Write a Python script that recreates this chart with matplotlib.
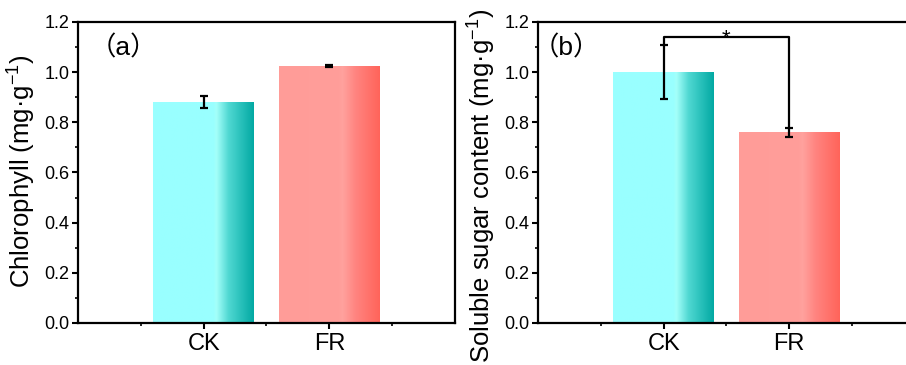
import numpy as np
import matplotlib.pyplot as plt
from matplotlib.colors import LinearSegmentedColormap
from matplotlib.ticker import MultipleLocator, FormatStrFormatter

plt.rcParams['font.family'] = ['Liberation Sans', 'Noto Sans CJK SC', 'DejaVu Sans']
plt.rcParams['mathtext.fontset'] = 'custom'
plt.rcParams['mathtext.rm'] = 'Liberation Sans'

groups = ['CK', 'FR']
chl_mean = [0.88, 1.024]
chl_err = [0.023, 0.004]
sugar_mean = [1.0, 0.760]
sugar_err = [0.107, 0.019]
ylabels = [r'Chlorophyll (mg·g$^{-1}$)', r'Soluble sugar content (mg·g$^{-1}$)']
panel_labels = ['（a）', '（b）']

ck_cmap = LinearSegmentedColormap.from_list('ck', [
    (0.0, '#99FFFF'), (0.6, '#99FFFF'), (0.63, '#A4FFFA'),
    (0.75, '#4FD8D2'), (1.0, '#02A9A3')])
fr_cmap = LinearSegmentedColormap.from_list('fr', [
    (0.0, '#FF9C98'), (0.6, '#FF9E9A'), (0.63, '#FFA29E'),
    (0.76, '#FF8480'), (1.0, '#FF645A')])
cmaps = [ck_cmap, fr_cmap]

fig = plt.figure(figsize=(9.06, 3.65), dpi=100)
ax_a = fig.add_axes([0.0861, 0.1151, 0.4161, 0.8247])
ax_b = fig.add_axes([0.5938, 0.1151, 0.4161, 0.8247])

x = np.arange(1, len(groups) + 1)
width = 0.8
grad = np.linspace(0, 1, 256).reshape(1, -1)


def draw(ax, means, errs, ylabel, label_y):
    for xi, m, cm in zip(x, means, cmaps):
        ax.imshow(grad, cmap=cm, aspect='auto', zorder=2,
                  extent=[xi - width / 2, xi + width / 2, 0, m])
    ax.errorbar(x, means, yerr=errs, fmt='none', ecolor='black',
                elinewidth=1.6, capsize=2.6, capthick=1.6, zorder=4)
    ax.set_xlim(0, 3)
    ax.set_ylim(0, 1.2)
    ax.set_xticks(x)
    ax.set_xticklabels(groups, fontsize=17)
    ax.set_xticks([0.5, 1.5, 2.5], minor=True)
    ax.yaxis.set_major_locator(MultipleLocator(0.2))
    ax.yaxis.set_minor_locator(MultipleLocator(0.1))
    ax.yaxis.set_major_formatter(FormatStrFormatter('%.1f'))
    ax.tick_params(axis='y', labelsize=13)
    ax.tick_params(which='major', direction='out', length=4.5, width=1.5, pad=1.5)
    ax.tick_params(axis='x', which='major', pad=3)
    ax.tick_params(which='minor', direction='out', length=2, width=1.2)
    for s in ax.spines.values():
        s.set_linewidth(1.6)
    ax.set_ylabel(ylabel, fontsize=18.5)
    ax.yaxis.set_label_coords(-0.109, label_y)


draw(ax_a, chl_mean, chl_err, ylabels[0], 0.505)
draw(ax_b, sugar_mean, sugar_err, ylabels[1], 0.455)
ax_a.text(0.09, 1.065, panel_labels[0], fontsize=19, ha='left', va='baseline', zorder=5)
ax_b.text(-0.04, 1.065, panel_labels[1], fontsize=19, ha='left', va='baseline', zorder=5)

# significance bracket on panel b
top = 1.14
ax_b.plot([x[0], x[0], x[1], x[1]],
          [sugar_mean[0] + sugar_err[0], top, top, sugar_mean[1] + sugar_err[1]],
          color='black', lw=1.6, zorder=4)
ax_b.text((x[0] + x[1]) / 2, 1.112, '*', ha='center', va='baseline',
          fontsize=16, zorder=3)

fig.savefig('out.png', dpi=100)
